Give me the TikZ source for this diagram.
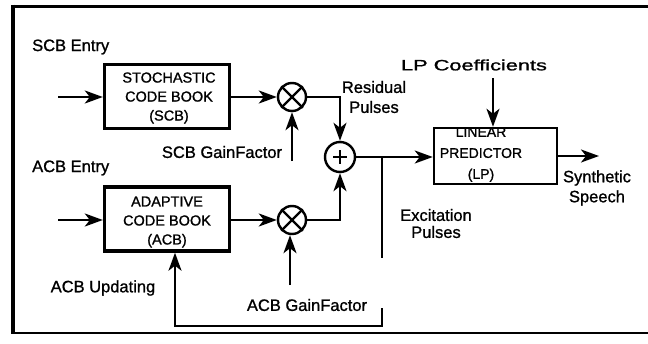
\documentclass[tikz,border=0pt]{standalone}
\usepackage{fontspec}
\usepackage{graphicx}
\setmainfont{Liberation Sans}[FakeBold=1.1]
\usetikzlibrary{arrows.meta,calc}
\tikzset{
  blk/.style={draw, line width=3.4pt, minimum width=125pt, minimum height=64pt, inner sep=0pt},
  lpblk/.style={draw, line width=2.5pt, minimum width=123pt, minimum height=56pt, inner sep=0pt},
  btxt/.style={align=center, font=\fontsize{14.5}{19}\selectfont, inner sep=0pt},
  lbl/.style={font=\fontsize{16.5}{20}\selectfont, inner sep=0pt, align=center},
  junc/.style={circle, draw, line width=2.4pt, minimum size=28pt, inner sep=0pt},
  wire/.style={line width=2.2pt},
  arr/.style={line width=2.2pt, -{Stealth[length=18pt, width=13pt, inset=5pt]}}
}
\begin{document}
\begin{tikzpicture}[x=1pt, y=-1pt]
\useasboundingbox (0,0) rectangle (648,343);
% frame
\draw[line width=3.6pt] (648,6.5) -- (13,6.5) coordinate (ftl);
\draw[line width=3.6pt] (13,4.7) -- (13,334);
\draw[line width=2pt] (11.2,333) -- (648,333);

% blocks
\node[blk] (scb) at (167,96.5) {};
\node[btxt] (scbt) at (169,98) {STOCHASTIC\\CODE BOOK\\(SCB)};
\node[blk] (acb) at (167,219) {};
\node[btxt] (acbt) at (167,222) {ADAPTIVE\\CODE BOOK\\(ACB)};
\node[lpblk] (lp) at (495.5,156) {};
\node[btxt, font=\fontsize{14}{21}\selectfont] (lpt) at (481,154.5) {LINEAR\\PREDICTOR\\(LP)};

% junctions
\node[junc] (m1) at (292,97) {};
\draw[line width=2.4pt] (m1.north east) -- (m1.south west) (m1.north west) -- (m1.south east);
\node[junc] (m2) at (292,220) {};
\draw[line width=2.4pt] (m2.north east) -- (m2.south west) (m2.north west) -- (m2.south east);
\node[junc, minimum size=30pt] (pl) at (340,157) {};
\draw[line width=2.2pt] ($(pl)+(-7,0)$) -- ($(pl)+(7,0)$) ($(pl)+(0,-7)$) -- ($(pl)+(0,7)$);

% labels
\node[lbl, anchor=west] (scbin) at (32,47) {SCB Entry};
\node[lbl, anchor=west] (acbin) at (32,168) {ACB Entry};
\node[lbl] (scbg) at (222,152) {SCB GainFactor};
\node[lbl] (acbg) at (307,305) {ACB GainFactor};
\node[lbl] (acbu) at (103,288) {ACB Updating};
\node[lbl] (resid) at (374,97) {Residual\\Pulses};
\node[lbl, font=\fontsize{16.5}{17}\selectfont] (exc) at (436,223.5) {Excitation\\Pulses};
\node[lbl] (syn) at (597,188) {Synthetic\\Speech};
\node[lbl, font=\fontsize{15}{18}\selectfont] (lpc) at (474,65) {\scalebox{1.45}[1]{LP Coefficients}};

% coordinates
\coordinate (scbsrc) at (58,97);
\coordinate (acbsrc) at (58,220);
\coordinate (g1) at (292,161);
\coordinate (g2) at (290,285);
\coordinate (c1) at (340,97);
\coordinate (c2) at (340,220);
\coordinate (lpcsrc) at (493,78);
\coordinate (out) at (599,156);
\coordinate (tap) at (382,157);
\coordinate (tapend) at (382,258);
\coordinate (fbtop) at (382,308);
\coordinate (fbr) at (382,326);
\coordinate (fbl) at (175,326);

% connectors
\draw[arr] (scbsrc) -- (scb.west |- scbsrc);
\draw[arr] (acbsrc) -- (acb.west |- acbsrc);
\draw[arr] (scb.east |- m1) -- (m1.west);
\draw[arr] (acb.east |- m2) -- (m2.west);
\draw[arr] (g1) -- (m1.south);
\draw[arr] (g2) -- (m2.south -| g2);
\draw[arr] (m1.east) -- (c1) -- (pl.north);
\draw[arr] (m2.east) -- (c2) -- (pl.south);
\draw[arr] (pl.east) -- (lp.west |- pl);
\draw[arr] (lpcsrc) -- (lpcsrc |- lp.north);
\draw[arr] (lp.east |- out) -- (out);
\draw[wire] (tap) -- (tapend);
\draw[arr] (fbtop) -- (fbr) -- (fbl) -- (fbl |- acb.south);
\end{tikzpicture}
\end{document}
